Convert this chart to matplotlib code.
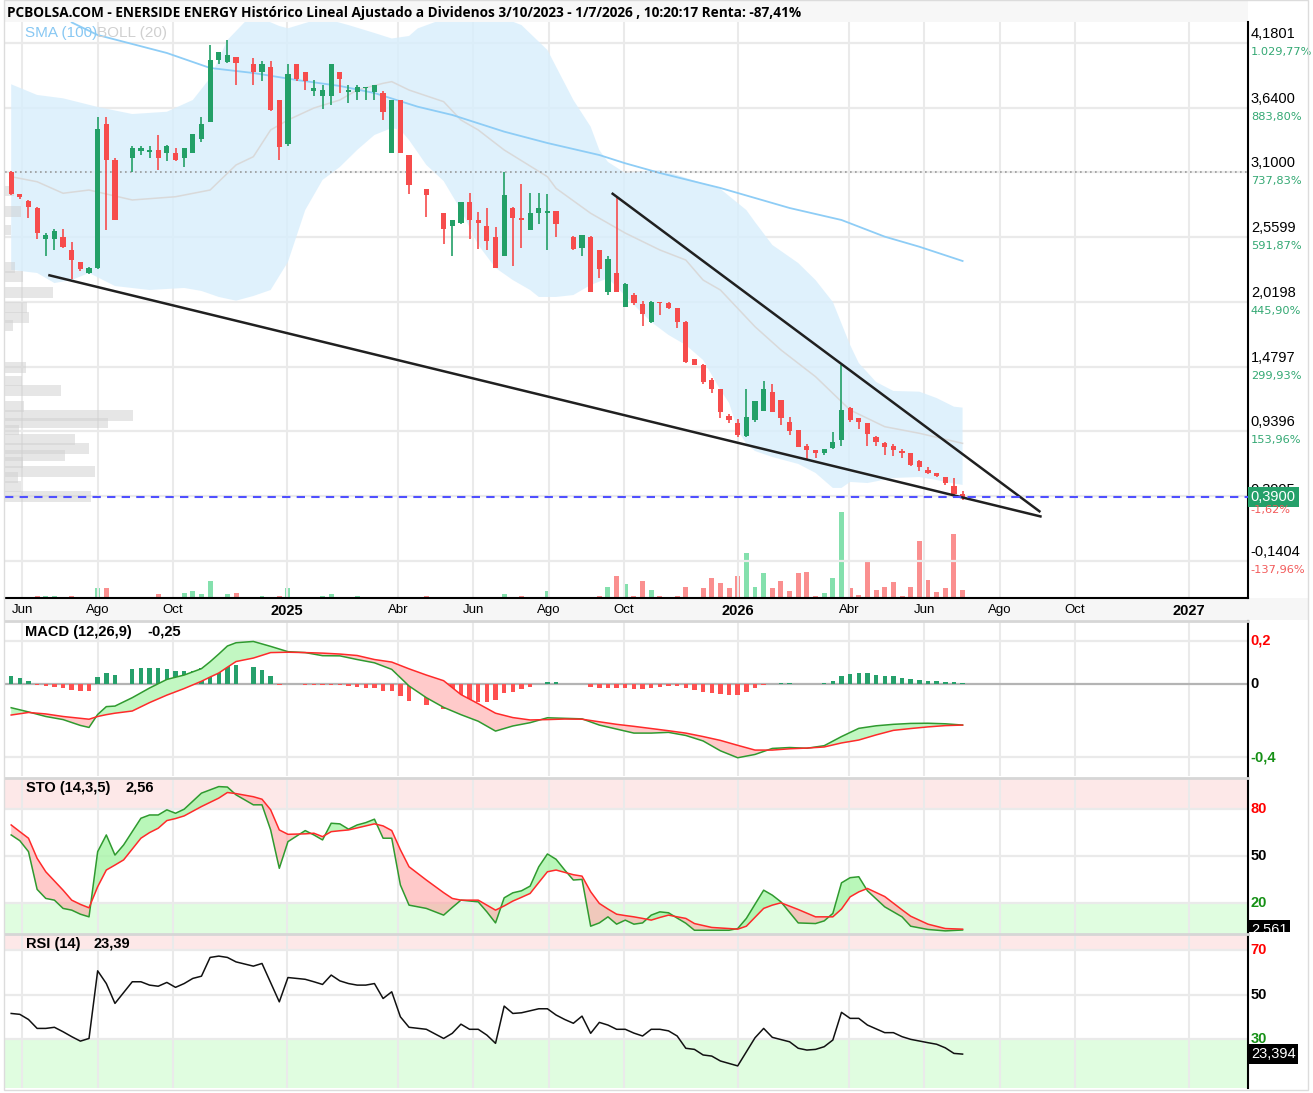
import numpy as np
import matplotlib.pyplot as plt
import matplotlib.dates as mdates
from matplotlib.patches import Rectangle
from matplotlib.transforms import blended_transform_factory, Bbox

nan = np.nan

# weekly candles, first week 2024-05-23, 10 weeks per row
O = [3.10, 2.92, 2.86, 2.80, 2.54, 2.54, 2.56, 2.45, 2.35, 2.26,
     2.30, 3.50, 3.20, nan, 3.22, 3.28, 3.27, 3.29, 3.26, 3.26,
     3.22, 3.26, 3.38, 3.52, 4.04, 4.02, 4.06, nan, 4.00, 3.94,
     3.98, 3.70, 3.34, 4.00, 3.94, 3.78, 3.74, 3.74, 3.94, 3.77,
     3.77, 3.80, 3.77, 3.76, 3.26, 3.70, 3.24, nan, 2.96, nan,
     2.76, 2.65, 2.68, 2.85, 2.70, 2.65, 2.56, 2.40, 2.80, 2.72,
     2.62, 2.76, 2.76, 2.78, nan, 2.56, 2.47, 2.56, 2.45, 2.10,
     2.26, 1.98, 2.08, 2.00, 1.85, 2.02, 2.01, 1.97, 1.85, 1.54,
     1.49, 1.37, 1.29, 1.07, 1.01, 0.90, 1.03, 1.11, 1.27, 1.20,
     1.02, 0.95, 0.82, 0.78, 0.76, 0.80, 0.87, 1.13, 1.05, 1.01,
     0.89, 0.84, 0.82, 0.77, 0.76, 0.69, 0.62, 0.59, 0.56, 0.48,
     0.42]
H = [3.11, 2.92, 2.87, 2.81, 2.59, 2.63, 2.63, 2.52, 2.35, 2.31,
     3.56, 3.56, 3.22, nan, 3.32, 3.32, 3.32, 3.41, 3.33, 3.30,
     3.30, 3.42, 3.56, 4.16, 4.10, 4.20, 4.06, nan, 4.05, 4.03,
     4.03, 3.70, 4.00, 4.00, 3.94, 3.87, 3.83, 4.00, 3.94, 3.83,
     3.83, 3.81, 3.83, 3.78, 3.70, 3.70, 3.24, nan, 2.96, nan,
     2.76, 2.70, 2.85, 2.93, 2.77, 2.80, 2.64, 3.10, 2.81, 3.00,
     2.93, 2.93, 2.92, 2.78, nan, 2.57, 2.58, 2.57, 2.45, 2.40,
     2.90, 2.18, 2.09, 2.03, 2.03, 2.02, 2.02, 1.97, 1.86, 1.54,
     1.50, 1.38, 1.29, 1.08, 1.04, 1.29, 1.19, 1.36, 1.33, 1.20,
     1.06, 0.95, 0.83, 0.78, 0.79, 0.93, 1.49, 1.14, 1.05, 1.01,
     0.90, 0.85, 0.83, 0.79, 0.76, 0.70, 0.64, 0.59, 0.56, 0.55,
     0.44]
L = [2.91, 2.88, 2.72, 2.54, 2.40, 2.45, 2.47, 2.21, 2.28, 2.25,
     2.29, 2.62, 2.70, nan, 3.10, 3.24, 3.22, 3.12, 3.19, 3.19,
     3.14, 3.26, 3.35, 3.52, 4.00, 4.01, 3.83, nan, 3.83, 3.86,
     3.61, 3.20, 3.32, 3.86, 3.79, 3.74, 3.63, 3.66, 3.76, 3.68,
     3.70, 3.70, 3.70, 3.54, 3.26, 3.26, 2.92, nan, 2.73, nan,
     2.50, 2.40, 2.67, 2.54, 2.46, 2.45, 2.30, 2.40, 2.32, 2.47,
     2.62, 2.67, 2.45, 2.56, nan, 2.45, 2.40, 2.10, 2.22, 2.08,
     2.10, 1.98, 1.99, 1.82, 1.84, 1.91, 1.96, 1.80, 1.51, 1.49,
     1.33, 1.26, 1.05, 1.01, 0.89, 0.89, 1.02, 1.11, 1.10, 0.99,
     0.91, 0.81, 0.71, 0.72, 0.74, 0.79, 0.82, 1.02, 0.96, 0.82,
     0.82, 0.74, 0.73, 0.72, 0.65, 0.61, 0.58, 0.56, 0.49, 0.41,
     0.37]
C = [2.92, 2.89, 2.81, 2.59, 2.58, 2.61, 2.48, 2.37, 2.29, 2.30,
     3.46, 3.20, 2.70, nan, 3.30, 3.30, 3.29, 3.22, 3.32, 3.20,
     3.30, 3.42, 3.50, 4.04, 4.10, 4.08, 4.01, nan, 3.94, 4.00,
     3.62, 3.31, 3.92, 3.88, 3.86, 3.80, 3.79, 4.00, 3.88, 3.79,
     3.81, 3.81, 3.83, 3.60, 3.70, 3.26, 2.99, nan, 2.91, nan,
     2.63, 2.70, 2.85, 2.70, 2.68, 2.53, 2.30, 2.91, 2.72, 2.70,
     2.76, 2.80, 2.78, 2.67, nan, 2.46, 2.58, 2.10, 2.29, 2.38,
     2.10, 2.17, 2.01, 1.92, 2.02, 2.01, 1.97, 1.85, 1.52, 1.49,
     1.35, 1.29, 1.10, 1.03, 0.91, 1.06, 1.19, 1.29, 1.10, 1.05,
     0.94, 0.81, 0.78, 0.76, 0.79, 0.85, 1.12, 1.03, 1.02, 0.92,
     0.85, 0.81, 0.78, 0.76, 0.66, 0.64, 0.59, 0.57, 0.51, 0.42,
     0.39]
# volume (thousands)
V = [1.5, 1.5, 0, 2.5, 2.5, 2.5, 1.5, 2.5, 0, 1.5,
     10.2, 10.2, 0, 0, 1.5, 0, 0, 4.2, 1.5, 0,
     5.2, 7.5, 4.2, 17.5, 1.5, 4.2, 5.2, 0, 1.5, 2.5,
     0, 2.5, 10.2, 1.5, 1.5, 0, 2.5, 4.2, 1.5, 0,
     2.5, 1.5, 0, 1.5, 1.5, 1.5, 0, 0, 2.5, 0,
     0, 1.5, 0, 0, 0, 1.5, 1.5, 4.2, 1.5, 2.5,
     0, 0, 7.5, 0, 0, 0, 1.5, 1.5, 2.5, 11.5,
     22.5, 14.5, 2.5, 17.5, 8.5, 2.5, 0, 2.5, 11.5, 1.5,
     10.5, 20.5, 15.5, 10.5, 22.5, 45.5, 11.5, 24.8, 10.5, 17.5,
     7.5, 24.8, 25.8, 2.5, 4.8, 20.2, 86.5, 10.2, 3.5, 35.8,
     8.5, 11.5, 15.8, 2.5, 11.5, 57.5, 18.5, 5.8, 10.2, 64.2,
     8.5]
hist = [0.044, 0.031, 0.016, -0.005, -0.009, -0.015, -0.024, -0.033, -0.037, -0.037,
        0.037, 0.062, 0.049, nan, 0.080, 0.090, 0.090, 0.090, 0.084, 0.073,
        0.073, 0.073, 0.086, 0.099, 0.119, 0.119, 0.104, nan, 0.091, 0.077,
        0.044, -0.004, 0.001, -0.002, -0.003, -0.005, -0.005, -0.004, -0.005, -0.009,
        -0.018, -0.024, -0.024, -0.037, -0.037, -0.064, -0.091, nan, -0.115, nan,
        -0.137, -0.143, -0.124, -0.110, -0.097, -0.097, -0.088, -0.051, -0.042, -0.029,
        -0.018, -0.002, 0.011, 0.011, nan, 0.002, -0.002, -0.018, -0.024, -0.024,
        -0.024, -0.024, -0.029, -0.029, -0.024, -0.018, -0.011, -0.011, -0.024, -0.033,
        -0.042, -0.048, -0.055, -0.060, -0.060, -0.042, -0.024, -0.005, 0.001, 0.007,
        0.007, 0.001, 0.001, 0.001, 0.007, 0.016, 0.044, 0.055, 0.058, 0.058,
        0.049, 0.044, 0.044, 0.035, 0.029, 0.022, 0.016, 0.016, 0.013, 0.011,
        0.003]

macd_w = [0, 2, 4, 6, 8, 9, 10, 11, 12, 14, 16, 18, 20, 22, 23, 24, 25, 26, 28, 30,
          32, 34, 36, 38, 40, 42, 44, 46, 48, 50, 52, 54, 56, 58, 60, 62, 64, 66, 68, 70,
          72, 74, 76, 78, 80, 82, 84, 86, 88, 90, 92, 94, 96, 98, 100, 102, 104, 106, 108, 110]
macd = [-0.130, -0.153, -0.178, -0.195, -0.227, -0.238, -0.167, -0.124, -0.121, -0.075,
        -0.022, 0.025, 0.049, 0.084, 0.122, 0.164, 0.208, 0.226, 0.233, 0.206,
        0.177, 0.172, 0.155, 0.154, 0.134, 0.116, 0.080, -0.011, -0.075, -0.128,
        -0.168, -0.204, -0.258, -0.230, -0.212, -0.185, -0.188, -0.191, -0.225, -0.247,
        -0.269, -0.269, -0.265, -0.282, -0.312, -0.366, -0.404, -0.386, -0.353, -0.348,
        -0.352, -0.338, -0.288, -0.243, -0.229, -0.221, -0.216, -0.215, -0.218, -0.225]
signal = [-0.170, -0.156, -0.164, -0.178, -0.188, -0.193, -0.178, -0.168, -0.160, -0.148,
          -0.102, -0.061, -0.025, 0.015, 0.038, 0.060, 0.092, 0.123, 0.142, 0.172,
          0.174, 0.172, 0.169, 0.164, 0.156, 0.134, 0.120, 0.083, 0.049, 0.018,
          -0.058, -0.108, -0.160, -0.184, -0.197, -0.195, -0.192, -0.193, -0.207, -0.221,
          -0.232, -0.244, -0.256, -0.269, -0.288, -0.309, -0.336, -0.362, -0.362, -0.355,
          -0.351, -0.345, -0.323, -0.307, -0.279, -0.254, -0.244, -0.235, -0.228, -0.225]

sto_w = [0, 1, 2, 3, 4, 5, 6, 7, 8, 9, 10, 11, 12, 13, 15, 16, 17, 18, 19, 20,
         22, 24, 25, 26, 28, 29, 30, 31, 32, 34, 35, 36, 37, 38, 39, 40, 41, 42, 43, 44,
         45, 46, 48, 50, 51, 52, 54, 55, 56, 57, 58, 59, 60, 61, 62, 63, 64, 65, 66, 67,
         68, 69, 70, 71, 72, 73, 74, 75, 76, 77, 78, 79, 81, 83, 84, 85, 87, 88, 89, 91,
         93, 94, 95, 96, 97, 98, 99, 101, 103, 104, 106, 108, 110]
sto_k = [63.5, 59.8, 52.8, 28.6, 22.8, 21.7, 16.4, 15.3, 12.7, 11.0, 52.8, 63.5, 50.6, 57.1, 74.2, 76.3, 76.3, 79.6, 77.4, 80.0,
         90.3, 94.5, 94.2, 89.2, 82.8, 82.8, 66.7, 42.1, 59.2, 66.3, 63.5, 60.3, 71.0, 70.6, 67.2, 69.9, 71.4, 73.6, 61.4, 61.4,
         31.4, 18.5, 16.4, 12.1, 17.0, 21.7, 20.6, 14.2, 7.1, 23.2, 26.4, 27.7, 30.7, 43.1, 51.3, 47.9, 41.0, 34.6, 35.0, 5.0,
         7.1, 11.0, 6.3, 8.9, 6.3, 7.1, 12.1, 14.2, 13.6, 10.2, 6.9, 2.4, 2.4, 2.4, 3.5, 10.0, 28.1, 24.9, 20.6, 7.1,
         6.7, 8.4, 13.2, 32.8, 36.1, 36.7, 27.7, 17.4, 11.0, 5.0, 2.9, 2.0, 2.56]
sto_d = [69.9, 65.6, 61.4, 48.5, 39.9, 34.0, 28.1, 21.7, 19.0, 16.8, 30.3, 41.0, 44.2, 47.5, 61.4, 65.0, 67.8, 72.7, 74.0, 75.7,
         81.7, 87.1, 90.7, 90.0, 88.0, 86.4, 79.6, 66.7, 63.9, 64.2, 64.6, 62.4, 65.6, 66.2, 66.7, 68.0, 69.3, 70.6, 69.3, 66.3,
         54.0, 43.1, 34.6, 26.5, 22.8, 21.7, 21.7, 18.5, 15.3, 18.0, 21.1, 23.5, 26.0, 33.0, 39.9, 41.0, 39.5, 38.0, 37.1, 27.1,
         19.6, 16.0, 12.7, 11.8, 11.0, 10.0, 8.9, 10.6, 12.1, 11.0, 10.0, 6.7, 4.2, 3.5, 3.1, 5.0, 16.4, 18.5, 20.0, 15.7,
         11.0, 11.0, 11.0, 16.0, 23.8, 27.0, 29.2, 24.0, 15.5, 11.4, 6.3, 3.5, 3.1]

rsi_w = [0, 1, 2, 3, 4, 5, 6, 7, 8, 9, 10, 11, 12, 14, 15, 16, 17, 18, 19, 20,
         21, 22, 23, 24, 25, 26, 28, 29, 31, 32, 34, 35, 36, 37, 38, 39, 40, 41, 42, 43,
         44, 45, 46, 48, 50, 51, 52, 53, 54, 55, 56, 57, 58, 59, 60, 61, 62, 63, 64, 65,
         66, 67, 68, 69, 70, 71, 72, 73, 74, 75, 76, 77, 78, 79, 80, 81, 82, 84, 86, 87,
         88, 90, 91, 92, 93, 94, 95, 96, 97, 98, 99, 101, 102, 103, 104, 106, 107, 108, 109, 110]
rsi = [41.6, 41.2, 38.9, 34.9, 34.9, 35.4, 33.4, 31.2, 29.2, 30.4, 60.7, 55.0, 46.1, 55.8, 55.8, 54.3, 53.8, 55.5, 53.3, 55.0,
       57.3, 58.3, 66.7, 67.3, 66.7, 64.7, 62.8, 64.0, 46.8, 57.7, 56.9, 55.8, 54.6, 58.8, 56.2, 55.0, 54.3, 54.3, 55.0, 48.3,
       51.3, 40.1, 35.4, 34.5, 30.4, 32.7, 36.8, 34.5, 34.5, 31.9, 28.2, 44.9, 41.6, 41.9, 42.8, 43.7, 43.7, 40.9, 38.9, 37.2,
       40.4, 32.7, 37.6, 36.4, 34.5, 34.5, 32.8, 31.5, 34.5, 34.5, 33.8, 31.5, 26.0, 25.5, 23.0, 22.5, 20.3, 18.1, 30.7, 34.9,
       30.9, 28.9, 26.0, 25.2, 25.5, 26.7, 29.7, 42.1, 39.4, 39.4, 36.4, 33.0, 33.0, 31.2, 30.0, 28.5, 27.8, 26.2, 23.7, 23.39]

sma_w = [7, 10, 18, 23, 28, 33, 38, 42, 47, 51, 57, 62, 68, 71, 75, 82, 90, 96, 101, 105, 110]
sma = [4.35, 4.245, 4.095, 3.97, 3.928, 3.87, 3.82, 3.761, 3.647, 3.578, 3.439, 3.344,
       3.244, 3.175, 3.094, 2.969, 2.802, 2.702, 2.563, 2.479, 2.36]
bbu_w = [0, 3, 6, 10, 14, 18, 21, 23, 25, 27, 28, 31, 32, 34, 36, 39, 42, 44, 46, 47,
         49, 51, 56, 59, 62, 65, 67, 68, 69, 71, 75, 77, 82, 85, 86, 88, 91, 93, 95, 97,
         98, 100, 102, 105, 107, 109, 110]
bbu = [3.834, 3.745, 3.717, 3.645, 3.586, 3.605, 3.703, 3.886, 4.203, 4.353,
       4.412, 4.32, 4.301, 4.345, 4.387, 4.328, 4.262, 4.216, 4.237, 4.30,
       4.353, 4.412, 4.412, 4.328, 4.12, 3.703, 3.48, 3.286, 3.186, 3.094,
       3.119, 3.077, 2.961, 2.785, 2.685, 2.494, 2.343, 2.201, 2.018, 1.659,
       1.509, 1.351, 1.276, 1.27, 1.217, 1.145, 1.137]
bbl_w = [0, 3, 5, 7, 9, 12, 16, 20, 22, 24, 26, 28, 30, 32, 34, 36, 38, 40, 42, 44,
         45, 46, 48, 50, 52, 54, 56, 58, 60, 61, 63, 65, 67, 69, 70, 72, 74, 76, 78, 80,
         82, 83, 84, 85, 86, 88, 91, 93, 95, 96, 97, 99, 102, 105, 107, 109, 110]
bbl = [2.285, 2.26, 2.176, 2.201, 2.26, 2.151, 2.118, 2.135, 2.11, 2.06,
       2.029, 2.068, 2.118, 2.352, 2.785, 3.036, 3.144, 3.286, 3.411, 3.469,
       3.453, 3.369, 3.161, 3.027, 2.785, 2.494, 2.302, 2.201, 2.118, 2.06,
       2.06, 2.076, 2.16, 2.216, 2.143, 1.993, 1.851, 1.743, 1.659, 1.534,
       1.284, 1.176, 0.95, 0.834, 0.775, 0.725, 0.667, 0.592, 0.467, 0.467,
       0.517, 0.508, 0.55, 0.558, 0.533, 0.504, 0.492]
bbm_w = [0, 3, 6, 9, 14, 19, 23, 26, 28, 30, 32, 35, 38, 40, 43, 44, 46, 50, 52, 54,
         55, 57, 62, 63, 67, 71, 75, 78, 80, 82, 86, 89, 93, 97, 101, 105, 110]
bbm = [3.063, 3.021, 2.925, 2.952, 2.869, 2.896, 2.952, 3.161, 3.23, 3.453,
       3.536, 3.636, 3.703, 3.786, 3.842, 3.856, 3.786, 3.689, 3.536, 3.453,
       3.397, 3.286, 3.063, 2.966, 2.758, 2.593, 2.452, 2.368, 2.201, 2.118,
       1.812, 1.618, 1.395, 1.117, 0.978, 0.923, 0.839]

# volume at price (left profile)
prof_price = [2.944, 2.771, 2.619, 2.306, 2.233, 2.097, 1.972, 1.891, 1.82, 1.474, 1.359, 1.277,
              1.149, 1.069, 1.009, 0.95, 0.874, 0.798, 0.735, 0.682, 0.602, 0.552, 0.477, 0.394]
prof_vol = [9, 16, 6, 10.5, 18, 48, 22, 24, 7.6, 21, 17, 56,
            18.5, 128, 103, 14, 70, 84, 60, 18, 90, 12.6, 16, 86]

trend_lo = (['2024-06-22', '2026-09-04'], [2.243, 0.227])
trend_hi = (['2025-09-21', '2026-09-03'], [2.927, 0.266])
last_price = 0.39
ref_price = 3.10

price_ticks = [4.1801, 3.64, 3.10, 2.5599, 2.0198, 1.4797, 0.9396, 0.3995, -0.1404]
price_lbls = ['4,1801', '3,6400', '3,1000', '2,5599', '2,0198', '1,4797', '0,9396', '0,3995', '-0,1404']
pct_lbls = ['1.029,77%', '883,80%', '737,83%', '591,87%', '445,90%', '299,93%', '153,96%', '', '-137,96%']

month_dates = ['2024-06-01', '2024-08-01', '2024-10-01', '2025-01-01', '2025-04-01', '2025-06-01',
               '2025-08-01', '2025-10-01', '2026-01-01', '2026-04-01', '2026-06-01', '2026-08-01',
               '2026-10-01', '2027-01-01']
month_lbls = ['Jun', 'Ago', 'Oct', '2025', 'Abr', 'Jun', 'Ago', 'Oct', '2026', 'Abr', 'Jun', 'Ago', 'Oct', '2027']

title = ('PCBOLSA.COM - ENERSIDE ENERGY Histórico Lineal Ajustado a Dividenos 3/10/2023 - 1/7/2026 , '
         '10:20:17 Renta: -87,41%')

GREEN, RED = '#23a067', '#f64c4c'
VGREEN, VRED = '#84e0ad', '#fa8f8f'
GRID = '#eaeaea'

plt.rcParams['font.family'] = ['Liberation Sans', 'DejaVu Sans']

W, Hpx = 1313, 1093
fig = plt.figure(figsize=(W / 100, Hpx / 100), dpi=100)


def box(x0, y0, x1, y1):
    return [x0 / W, 1 - y1 / Hpx, (x1 - x0) / W, (y1 - y0) / Hpx]


start = np.datetime64('2024-05-23')


def wk(w):
    return mdates.date2num(start + np.asarray(w) * np.timedelta64(7, 'D'))


def dn(s):
    return mdates.date2num(np.array(s, dtype='datetime64[D]'))


xlim = dn(['2024-05-18', '2027-02-18'])
mdn = dn(month_dates)

# backgrounds: title strip, date strip, outer frame
fig.add_artist(Rectangle((5 / W, 1 - 22 / Hpx), 1243 / W, 22 / Hpx, transform=fig.transFigure,
                         fc='#f7f7f7', ec='none', zorder=-5))
fig.add_artist(Rectangle((5 / W, 1 - 620 / Hpx), 1303 / W, 22 / Hpx, transform=fig.transFigure,
                         fc='#f6f6f6', ec='none', zorder=-5))
fig.add_artist(Rectangle((4 / W, 1 - 1090 / Hpx), 1304 / W, 1090 / Hpx, transform=fig.transFigure,
                         fill=False, ec='#dcdcdc', lw=1, zorder=10))
fig.text(7 / W, 1 - 13 / Hpx, title, fontsize=9.85, weight='bold', va='center', family=['Open Sans', 'DejaVu Sans'])


def rlabel(axis, y, s, color, size=10.5, dy=0, weight='normal', family=None, bbox=None):
    kw = dict(family=family) if family else {}
    return axis.annotate(s, xy=(1, y), xycoords=blended_transform_factory(axis.transAxes, axis.transData),
                         xytext=(2, dy), textcoords='offset points', ha='left', va='center',
                         fontsize=size, color=color, weight=weight, annotation_clip=False,
                         bbox=bbox, zorder=20, **kw)


def style_panel(axis, top=True):
    for side in ('left', 'bottom'):
        axis.spines[side].set_visible(False)
    axis.spines['top'].set_visible(top)
    axis.spines['top'].set_color('#d6d6d6')
    axis.spines['top'].set_linewidth(2)
    axis.spines['right'].set_color('black')
    axis.spines['right'].set_linewidth(1.5)
    axis.set_xlim(*xlim)
    axis.set_xticks([])
    axis.set_yticks([])
    for d in mdn:
        axis.axvline(d, color=GRID, lw=1.5, zorder=0.5)


# ---------------- price panel ----------------
ax = fig.add_axes(box(5, 22, 1248, 598))
axv = ax.twinx()
ax.set_zorder(axv.get_zorder() + 1)
ax.patch.set_visible(False)
style_panel(ax, top=False)
ax.spines['bottom'].set_visible(True)
ax.spines['bottom'].set_color('black')
ax.spines['bottom'].set_linewidth(1.5)
ax.set_ylim(-0.451, 4.3535)
for v in price_ticks:
    ax.axhline(v, color=GRID, lw=1.6, zorder=0.5)

# bollinger band
ax.fill(np.r_[wk(bbu_w), wk(bbl_w)[::-1]], np.r_[bbu, bbl[::-1]], color='#d8eefc', alpha=0.8, lw=0, zorder=1)
ax.plot(wk(bbm_w), bbm, color='#d9d9d9', lw=1.1, zorder=2)
ax.plot(wk(sma_w), sma, color='#8ecdf6', lw=1.3, zorder=3)

# volume profile
tr = blended_transform_factory(ax.transAxes, ax.transData)
for p, v in zip(prof_price, prof_vol):
    ax.add_patch(Rectangle((0, p - 0.045), v / 1243, 0.09, transform=tr, fc='#cfcfcf', alpha=0.5,
                           ec='none', zorder=2.5))

ax.axhline(ref_price, color='#9a9a9a', lw=1.2, dashes=(1, 2), zorder=3)

# candles
dates = wk(np.arange(len(O)))
Oa, Ha, La, Ca = (np.array(a, dtype=float) for a in (O, H, L, C))
up = Ca >= Oa
col = np.where(up, GREEN, RED)
ax.vlines(dates, La, Ha, colors=col, lw=1.2, zorder=4)
ax.bar(dates, np.maximum(np.abs(Ca - Oa), 0.012), bottom=np.fmin(Oa, Ca), width=4.2, color=col, zorder=5)

ax.plot(dn(trend_lo[0]), trend_lo[1], color='#202020', lw=1.8, zorder=6, solid_capstyle='butt')
ax.plot(dn(trend_hi[0]), trend_hi[1], color='#202020', lw=1.8, zorder=6, solid_capstyle='butt')
ax.axhline(last_price, color='#5050ff', lw=1.5, dashes=(4, 3), zorder=6)

# volume bars
axv.bar(dates, V, width=4.0, color=np.where(up, VGREEN, VRED), zorder=2)
axv.set_ylim(0, 576)
axv.axis('off')

ax.set_xticks(mdn)
ax.set_xticklabels(month_lbls)
ax.tick_params(axis='x', length=0, pad=4, labelsize=9.5)
for t, s in zip(ax.get_xticklabels(), month_lbls):
    if s.isdigit():
        t.set_fontweight('bold')
        t.set_fontsize(10.5)

ax.text(20 / 1243, (598 - 33) / 576, 'SMA (100)', transform=ax.transAxes, color='#88c8f3', fontsize=11,
        va='center', zorder=7)
ax.text(92 / 1243, (598 - 33) / 576, 'BOLL (20)', transform=ax.transAxes, color='#d0d0d0', fontsize=11,
        va='center', zorder=7)

for v, pl, pc in zip(price_ticks, price_lbls, pct_lbls):
    rlabel(ax, v, pl, 'black', 10.5, 4.5 if v == price_ticks[-2] else 6.5)
    if pc:
        rlabel(ax, v, pc, '#f25a5a' if pc.startswith('-') else '#33a873', 8.2, -6.5, family='DejaVu Sans')
rlabel(ax, last_price, '0,3900', 'white', 10.5, 0,
       bbox=dict(boxstyle='square,pad=0.2', fc='#25a06a', ec='none'))
rlabel(ax, last_price, '-1,62%', '#f25a5a', 8.2, -9.5, family='DejaVu Sans')

# ---------------- MACD ----------------
am = fig.add_axes(box(5, 621, 1248, 776))
style_panel(am)
am.set_ylim(-0.504, 0.345)
for v in (0.237, -0.4):
    am.axhline(v, color=GRID, lw=1.6, zorder=0.5)
am.axhline(0, color='#b4b4b4', lw=1.6, zorder=1)
h = np.array(hist, dtype=float)
am.bar(dates, h, width=3.6, color=np.where(h >= 0, '#26a06b', '#ff5050'), zorder=2)
md = wk(macd_w)
mv, sv = np.array(macd), np.array(signal)
am.fill_between(md, mv, sv, where=mv >= sv, interpolate=True, color='#c2f7c2', lw=0, zorder=2.5)
am.fill_between(md, mv, sv, where=mv < sv, interpolate=True, color='#ffcaca', lw=0, zorder=2.5)
am.plot(md, mv, color='#2f9a2f', lw=1.1, zorder=3)
am.plot(md, sv, color='#ff2a2a', lw=1.1, zorder=3)
am.text(20 / 1243, (776 - 632) / 155, 'MACD (12,26,9)', transform=am.transAxes, fontsize=10.5,
        weight='bold', va='center')
am.text(142 / 1243, (776 - 632) / 155, '-0,25', transform=am.transAxes, fontsize=10.5,
        weight='bold', va='center')
rlabel(am, 0.237, '0,2', '#ff0000', 10.5, weight='bold')
rlabel(am, 0, '0', 'black', 10.5, weight='bold')
rlabel(am, -0.4, '-0,4', '#159015', 10.5, weight='bold')

# ---------------- STO ----------------
ast = fig.add_axes(box(5, 778, 1248, 934))
style_panel(ast)
ast.set_ylim(0, 100)
ast.axhspan(80, 100, color='#fde8e8', lw=0, zorder=0.2)
ast.axhspan(0, 20, color='#e0fde0', lw=0, zorder=0.2)
for v in (80, 50, 20):
    ast.axhline(v, color=GRID, lw=1.6, zorder=0.5)
sd = wk(sto_w)
kv, dv = np.array(sto_k), np.array(sto_d)
ast.fill_between(sd, kv, dv, where=kv >= dv, interpolate=True, color='#a8f5a8', alpha=0.8, lw=0, zorder=2)
ast.fill_between(sd, kv, dv, where=kv < dv, interpolate=True, color='#ff9d9d', alpha=0.55, lw=0, zorder=2)
ast.plot(sd, kv, color='#2f9a2f', lw=1.1, zorder=3)
ast.plot(sd, dv, color='#ff2a2a', lw=1.1, zorder=3)
ast.text(21 / 1243, (934 - 788) / 156, 'STO (14,3,5)', transform=ast.transAxes, fontsize=10.5,
         weight='bold', va='center')
ast.text(120 / 1243, (934 - 788) / 156, '2,56', transform=ast.transAxes, fontsize=10.5,
         weight='bold', va='center')
rlabel(ast, 80, '80', '#ff0000', 10.5, weight='bold')
rlabel(ast, 50, '50', 'black', 10.5, weight='bold')
rlabel(ast, 20, '20', '#159015', 10.5, weight='bold')
t = rlabel(ast, sto_k[-1], '2,561', 'white', 10.5, bbox=dict(boxstyle='square,pad=0.2', fc='black', ec='none'))
t.set_clip_box(Bbox.from_extents(1240, Hpx - 932, 1310, Hpx - 778))
t.set_clip_on(True)

# ---------------- RSI ----------------
ar = fig.add_axes(box(5, 934, 1248, 1088))
style_panel(ar)
ar.set_ylim(8.2, 77.2)
ar.axhspan(70, 77.2, color='#fde8e8', lw=0, zorder=0.2)
ar.axhspan(8.2, 30, color='#e0fde0', lw=0, zorder=0.2)
for v in (70, 50, 30):
    ar.axhline(v, color=GRID, lw=1.6, zorder=0.5)
ar.plot(wk(rsi_w), rsi, color='#111111', lw=1.1, zorder=3)
ar.text(21 / 1243, (1088 - 944) / 154, 'RSI (14)', transform=ar.transAxes, fontsize=10.5,
        weight='bold', va='center')
ar.text(89 / 1243, (1088 - 944) / 154, '23,39', transform=ar.transAxes, fontsize=10.5,
        weight='bold', va='center')
rlabel(ar, 70, '70', '#ff0000', 10.5, weight='bold')
rlabel(ar, 50, '50', 'black', 10.5, weight='bold')
rlabel(ar, 30, '30', '#159015', 10.5, weight='bold')
rlabel(ar, rsi[-1], '23,394', 'white', 10.5, bbox=dict(boxstyle='square,pad=0.2', fc='black', ec='none'))

fig.savefig('out.png', dpi=100)
